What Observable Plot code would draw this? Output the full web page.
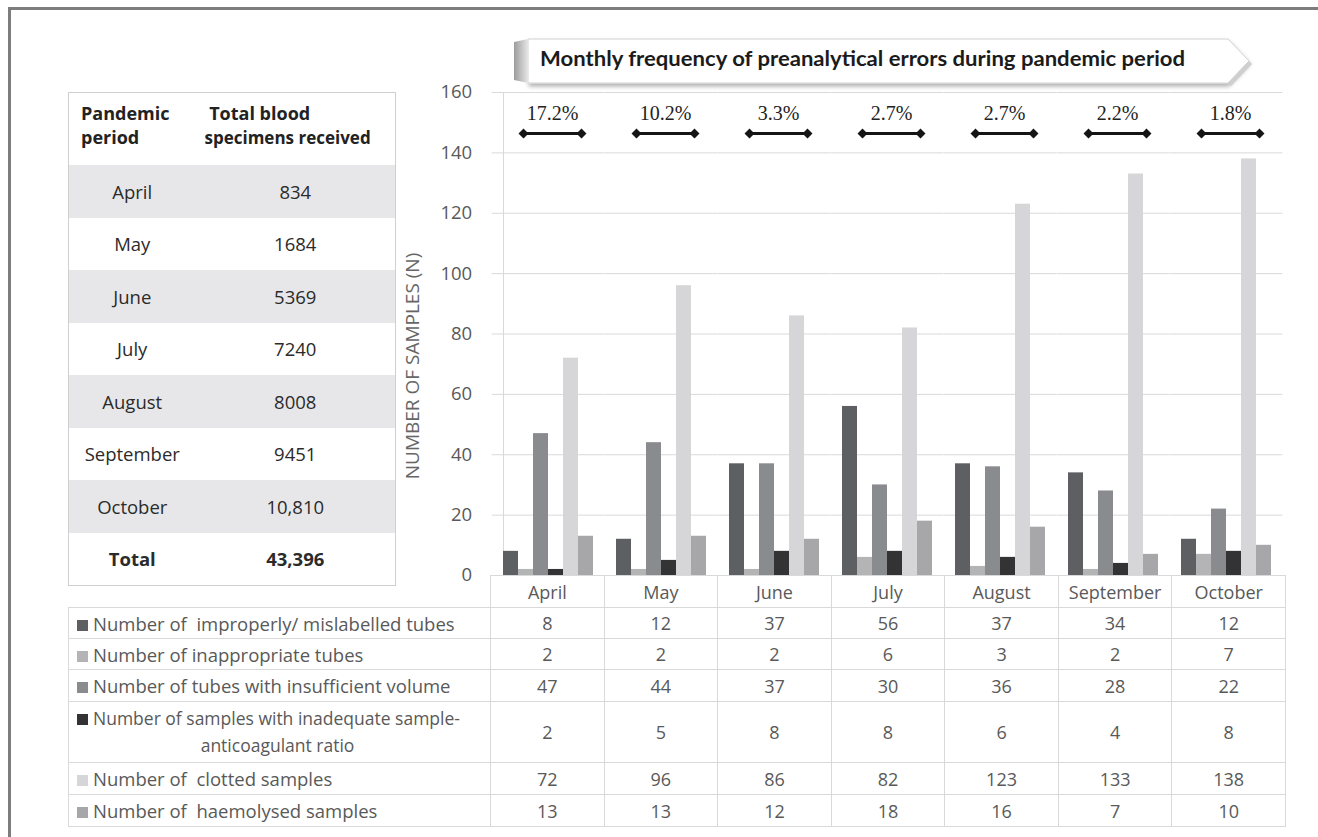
<!DOCTYPE html>
<html>
<head>
<meta charset="utf-8">
<script src="https://cdn.jsdelivr.net/npm/d3@7"></script>
<script src="https://cdn.jsdelivr.net/npm/@observablehq/plot@0.6"></script>
<style>
  html, body { margin: 0; padding: 0; background: #fff; width: 1318px; height: 837px; overflow: hidden; }
  body { position: relative; font-family: "Open Sans", Lato, sans-serif; }
  #frame { position: absolute; left: 8px; top: 7px; width: 1400px; height: 900px; border: 3px solid #7d7d7d; box-sizing: border-box; }
  #left { position: absolute; left: 68px; top: 92px; width: 327px; border-collapse: collapse; border: 1px solid #cfcfcf; table-layout: fixed; }
  #left td { padding: 0; color: #2b2b2b; font-size: 18.5px; height: 52.5px; text-align: center; }
  #left tr.shade td { background: #e7e7e9; }
  #left tr.head td { height: 64px; font-weight: bold; text-align: left; vertical-align: top; padding-top: 8px; line-height: 24px; color: #222; font-size: 18px; }
  #left tr.total td { font-weight: bold; }
  #bottom { position: absolute; left: 68px; top: 575px; border-collapse: collapse; table-layout: fixed; width: 1218px; }
  #bottom td { border: 1px solid #d9d9d9; padding: 0; text-align: center; color: #595959; font-size: 18px; }
  #bottom tr.hdr td { font-size: 18px; }
  #bottom td.lab { text-align: left; padding-left: 8px; font-size: 18.5px; white-space: nowrap; }
  #bottom td.lab.two { line-height: 27px; font-size: 17.5px; }
  #bottom td.lab.two .l2 { display: block; text-align: center; padding-right: 12px; }
  #bottom tr.hdr td.blank { border-top: none; border-left: none; }
  .sw { display: inline-block; width: 11px; height: 11px; margin-right: 5px; vertical-align: 0px; }
  #chart { position: absolute; left: 0; top: 0; }
  #banner { position: absolute; left: 0; top: 0; }
</style>
</head>
<body>
<div id="frame"></div>
<svg id="banner" width="1318" height="100"></svg>
<div id="chart"></div>
<table id="left"></table>
<table id="bottom"></table>
<script>
// ---------- data ----------
const months = ["April", "May", "June", "July", "August", "September", "October"];
const seriesNames = [
  "Number of  improperly/ mislabelled tubes",
  "Number of inappropriate tubes",
  "Number of tubes with insufficient volume",
  "Number of samples with inadequate sample-anticoagulant ratio",
  "Number of  clotted samples",
  "Number of  haemolysed samples"
];
const seriesColors = ["#5e5f62", "#b4b4b6", "#8a8b8e", "#333335", "#d6d6d8", "#a7a7a9"];
const mislabelled   = [8, 12, 37, 56, 37, 34, 12];
const inappropriate = [2, 2, 2, 6, 3, 2, 7];
const insufficient  = [47, 44, 37, 30, 36, 28, 22];
const anticoagulant = [2, 5, 8, 8, 6, 4, 8];
const clotted       = [72, 96, 86, 82, 123, 133, 138];
const haemolysed    = [13, 13, 12, 18, 16, 7, 10];
const errorRates = ["17.2%", "10.2%", "3.3%", "2.7%", "2.7%", "2.2%", "1.8%"];
const totalSpecimens = ["834", "1684", "5369", "7240", "8008", "9451", "10,810"];
const grandTotal = "43,396";
const yTicks = [0, 20, 40, 60, 80, 100, 120, 140, 160];
const title = "Monthly frequency of preanalytical errors during pandemic period";
const yTitle = "NUMBER OF SAMPLES (N)";

// ---------- derived tables ----------
const seriesValues = [mislabelled, inappropriate, insufficient, anticoagulant, clotted, haemolysed];
const bars = [];
months.forEach((m, i) => seriesNames.forEach((s, j) => bars.push({month: m, series: s, value: seriesValues[j][i]})));
const rates = months.map((m, i) => ({month: m, rate: errorRates[i]}));

// custom symbol: a bar with a diamond at each end
const dumbbell = {
  draw(ctx) {
    const h = 29, d = 5, t = 1.6;
    ctx.moveTo(-h, -t); ctx.lineTo(h, -t); ctx.lineTo(h, t); ctx.lineTo(-h, t); ctx.closePath();
    for (const c of [-h, h]) {
      ctx.moveTo(c - d, 0); ctx.lineTo(c, -d); ctx.lineTo(c + d, 0); ctx.lineTo(c, d); ctx.closePath();
    }
  }
};

const PLOT_W = 1318, ML = 490, MR = 33;
const step = (PLOT_W - ML - MR) / months.length;
const halfGap = step * 0.1;  // half of the inner padding (0.2) between month groups

const chart = Plot.plot({
  width: PLOT_W,
  height: 576,
  marginLeft: ML,
  marginRight: MR,
  marginTop: 92,
  marginBottom: 1,
  style: {background: "transparent", overflow: "visible"},
  fx: {domain: months, paddingInner: 0.2, paddingOuter: 0.1, axis: null, label: null},
  x: {domain: seriesNames, padding: 0, axis: null},
  y: {domain: [0, 160], axis: null},
  color: {domain: seriesNames, range: seriesColors},
  marks: [
    Plot.ruleY(yTicks, {stroke: "#d9d9d9", strokeWidth: 1, insetLeft: -halfGap, insetRight: -halfGap}),
    Plot.frame({facet: "super", anchor: "left", stroke: "#d9d9d9"}),
    Plot.axisY(yTicks, {anchor: "left", tickSize: 0, tickPadding: 20 + halfGap, fill: "#595959", fontSize: 18.5, fontFamily: "Open Sans", label: null}),
    Plot.text([yTitle], {facet: "super", text: d => d, frameAnchor: "left", textAnchor: "middle", lineAnchor: "middle", rotate: -90, dx: -91, dy: 32, fill: "#666", fontSize: 19, fontFamily: "Open Sans"}),
    Plot.barY(bars, {fx: "month", x: "series", y: "value", fill: "series"}),
    Plot.text(rates, {fx: "month", text: "rate", frameAnchor: "top", lineAnchor: "middle", dy: 21, dx: 4, fontFamily: "Liberation Serif", fontSize: 20, fill: "#222"}),
    Plot.dot(rates, {fx: "month", frameAnchor: "top", dy: 41, dx: 4, symbol: dumbbell, fill: "#151515", stroke: "none", r: 3})
  ]
});
document.getElementById("chart").appendChild(chart);

// ---------- banner ----------
const banner = d3.select("#banner");
const defs = banner.append("defs");
defs.append("filter").attr("id", "sh").attr("x", "-5%").attr("y", "-30%").attr("width", "110%").attr("height", "170%")
  .append("feDropShadow").attr("dx", 1).attr("dy", 3).attr("stdDeviation", 2).attr("flood-color", "#000").attr("flood-opacity", 0.3);
const g1 = defs.append("linearGradient").attr("id", "bev").attr("x1", 0).attr("x2", 1);
g1.append("stop").attr("offset", 0).attr("stop-color", "#9c9c9c");
g1.append("stop").attr("offset", 1).attr("stop-color", "#e6e6e6");
banner.append("polygon").attr("points", "528,39 1228,39 1249,61 1228,83 528,83")
  .attr("fill", "#fff").attr("stroke", "#d2d2d2").attr("filter", "url(#sh)");
banner.append("polygon").attr("points", "514,42 528,39 528,83 514,80").attr("fill", "url(#bev)");
banner.append("polygon").attr("points", "1228,83 1249,61 1252,64 1231,86").attr("fill", "#cfcfcf");
banner.append("text").attr("x", 540).attr("y", 61).attr("dominant-baseline", "middle")
  .attr("font-family", "Lato").attr("font-weight", "bold").attr("font-size", 20.5).attr("fill", "#1b1b1b")
  .attr("textLength", 645).attr("lengthAdjust", "spacingAndGlyphs").text(title);

// ---------- left table ----------
const left = d3.select("#left");
left.append("colgroup").selectAll("col").data([127, 200]).join("col").style("width", d => d + "px");
const hr = left.append("tr").attr("class", "head");
hr.append("td").style("padding-left", "12px").html("Pandemic<br>period");
hr.append("td").style("padding-left", "9px").html("&nbsp;Total blood<br><span style='font-size:17px'>specimens received</span>");
months.forEach((m, i) => {
  const tr = left.append("tr").attr("class", i % 2 === 0 ? "shade" : "");
  tr.append("td").text(m);
  tr.append("td").text(totalSpecimens[i]);
});
const tt = left.append("tr").attr("class", "total");
tt.append("td").text("Total");
tt.append("td").text(grandTotal);

// ---------- bottom data table ----------
const bottom = d3.select("#bottom");
const colW = 795 / months.length;
bottom.append("colgroup").selectAll("col").data([422, ...months.map(() => colW)]).join("col").style("width", d => d + "px");
const h = bottom.append("tr").attr("class", "hdr").style("height", "32px");
h.append("td").attr("class", "blank");
months.forEach(m => h.append("td").text(m));
const rowH = [31, 31, 32, 61, 32, 32];
seriesNames.forEach((s, j) => {
  const tr = bottom.append("tr").style("height", rowH[j] + "px");
  const td = tr.append("td").attr("class", "lab");
  const parts = s.split("sample-");
  if (parts.length > 1) {
    td.classed("two", true);
    td.html(`<span class="sw" style="background:${seriesColors[j]}"></span>${parts[0]}sample-<span class="l2">${parts[1]}</span>`);
  } else {
    td.html(`<span class="sw" style="background:${seriesColors[j]}"></span>${s.replace(/  /g, " &nbsp;")}`);
  }
  seriesValues[j].forEach(v => tr.append("td").text(v));
});
</script>
</body>
</html>
